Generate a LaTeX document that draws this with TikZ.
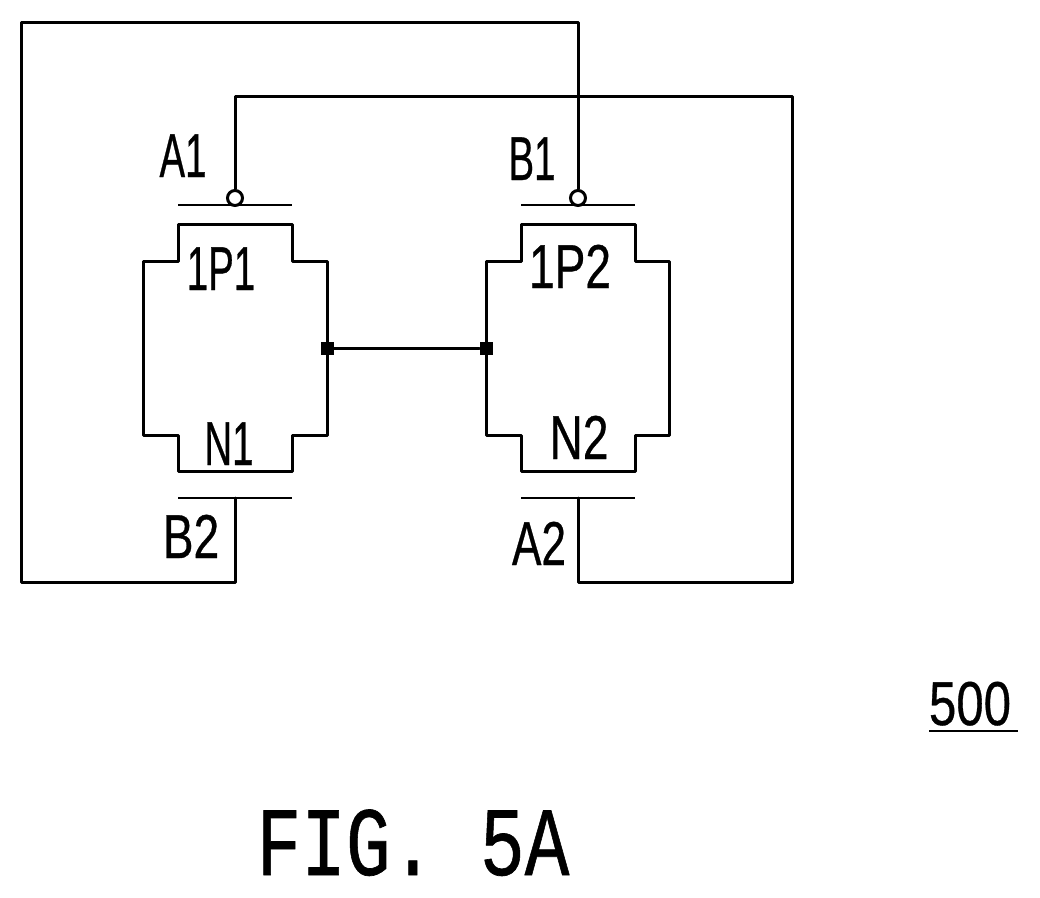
\documentclass[tikz,border=0pt]{standalone}
\usepackage{fontspec}
\setmainfont[FakeBold=0.6]{Liberation Sans}
\newfontfamily\figfont[FakeBold=0.7]{Liberation Mono}
\tikzset{
  wire/.style={line width=3pt,line cap=round,line join=round},
  gatebar/.style={line width=2.6pt},
  bubble/.style={circle,draw,line width=3pt,fill=white,minimum size=15pt,inner sep=0pt},
  junction/.style={rectangle,fill=black,minimum size=13pt,inner sep=0pt},
  lbl/.style={inner sep=0pt,anchor=base,font=\fontsize{62}{62}\selectfont,xscale=0.62}
}
\begin{document}
\begin{tikzpicture}[x=1pt,y=-1pt]
\useasboundingbox (0,0) rectangle (1040,897);
% transistor outlines
\draw[wire] (143,261)--(178,261)--(178,224)--(292,224)--(292,261)--(327,261)--(327,435)--(292,435)--(292,471)--(178,471)--(178,435)--(143,435)--cycle;
\draw[wire] (486,261)--(521,261)--(521,224)--(635,224)--(635,261)--(669,261)--(669,435)--(635,435)--(635,471)--(521,471)--(521,435)--(486,435)--cycle;
% gate bars
\draw[gatebar] (178,205)--(292,205);
\draw[gatebar] (521,205)--(635,205);
\draw[gatebar] (178,498)--(292,498);
\draw[gatebar] (521,498)--(635,498);
% gate nodes
\node[bubble] (g1) at (235,198) {};
\node[bubble] (g2) at (578,198) {};
\coordinate (g3) at (235,498);
\coordinate (g4) at (578,498);
% crossing wires
\draw[wire] (g1.north)--(235,96)--(792,96)--(792,582)--(578,582)--(g4);
\draw[wire] (g2.north)--(578,22)--(21,22)--(21,582)--(235,582)--(g3);
% output
\node[junction] (j1) at (327,348) {};
\node[junction] (j2) at (486,348) {};
\draw[wire] (j1)--(j2);
% labels
\node[lbl] at (183,177) {A1};
\node[lbl] at (532,180) {B1};
\node[lbl] at (221,290) {1P1};
\node[lbl,xscale=1.2] at (570,288) {1P2};
\node[lbl] at (229,465) {N1};
\node[lbl,xscale=1.2] at (579,459) {N2};
\node[lbl,xscale=1.2] at (191,558) {B2};
\node[lbl,xscale=1.15] at (539,565) {A2};
\node[lbl,xscale=1.28] at (970,725) {500};
\draw[gatebar] (929,731)--(1018,731);
\node[inner sep=0pt,anchor=base,font=\figfont\fontsize{98}{98}\selectfont,xscale=0.76] at (413,875) {FIG. 5A};
\end{tikzpicture}
\end{document}
